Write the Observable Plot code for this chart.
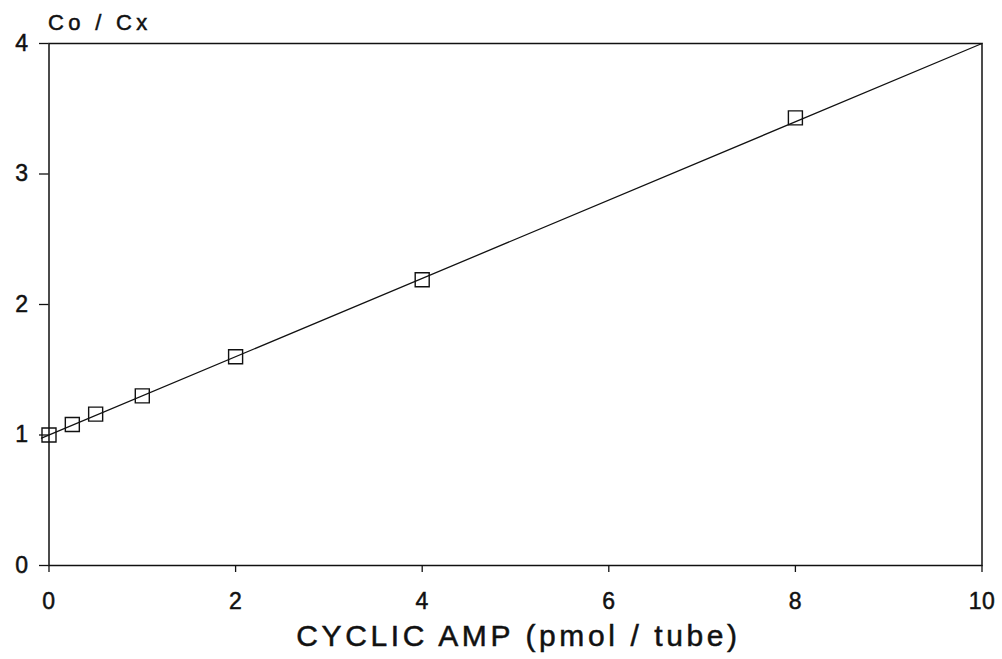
<!DOCTYPE html>
<html>
<head>
<meta charset="utf-8">
<script src="https://cdn.jsdelivr.net/npm/d3@7"></script>
<script src="https://cdn.jsdelivr.net/npm/@observablehq/plot@0.6"></script>
<style>
  html, body { margin: 0; padding: 0; background: #fff; }
  #chart svg { display: block; }
</style>
</head>
<body>
<div id="chart"></div>
<script>
// Standards: cyclic AMP (pmol / tube) vs Co / Cx
const camp = [0, 0.25, 0.5, 1, 2, 4, 8];
const ratio = [1.0, 1.08, 1.16, 1.30, 1.60, 2.19, 3.43];

// fitted straight line, endpoints
const fitX = [-0.08, 10];
const fitY = [0.976, 4.0];

const xTicks = [0, 2, 4, 6, 8, 10];
const yTicks = [0, 1, 2, 3, 4];

const xTitle = "CYCLIC AMP (pmol / tube)";
const yTitle = "Co / Cx";

const points = camp.map((x, i) => ({x, y: ratio[i]}));
const fit = fitX.map((x, i) => ({x, y: fitY[i]}));

const ink = "#111";

const chart = Plot.plot({
  width: 1002,
  height: 659,
  marginLeft: 48.5,
  marginRight: 20.5,
  marginTop: 43,
  marginBottom: 94,
  style: {fontFamily: "'Liberation Sans', Arial, sans-serif", background: "#fff", color: ink},
  x: {domain: [0, 10]},
  y: {domain: [0, 4]},
  marks: [
    Plot.frame({stroke: ink, strokeWidth: 1.5}),
    Plot.axisX({ticks: xTicks, tickFormat: d3.format("d"), tickSize: 7, tickPadding: 20, fontSize: 23, label: null, stroke: ink, strokeWidth: 1.3}),
    Plot.axisY({ticks: yTicks, tickFormat: d3.format("d"), tickSize: 9.5, tickPadding: 11, fontSize: 23, label: null, stroke: ink, strokeWidth: 1.3}),
    Plot.line(fit, {x: "x", y: "y", stroke: ink, strokeWidth: 1.3}),
    Plot.dot(points, {x: "x", y: "y", symbol: "square", r: 7.9, stroke: ink, strokeWidth: 1.4, fill: "none"}),
    Plot.text([xTitle], {frameAnchor: "bottom", dy: 71, dx: 3, lineAnchor: "middle", fontSize: 30, fill: ink, text: d => d}),
    Plot.text([yTitle], {frameAnchor: "top-left", dy: -21, dx: -1, textAnchor: "start", lineAnchor: "middle", fontSize: 22, fill: ink, text: d => d})
  ]
});
d3.select(chart).selectAll("text").each(function() {
  const t = this.textContent;
  const s = d3.select(this);
  if (t === xTitle) s.style("letter-spacing", "3.6px");
  else if (t === yTitle) s.style("letter-spacing", "4.3px");
  else s.style("letter-spacing", "0.5px");
  s.style("stroke", ink).style("stroke-width", "0.5px").style("paint-order", "stroke");
});
document.getElementById("chart").appendChild(chart);
</script>
</body>
</html>
